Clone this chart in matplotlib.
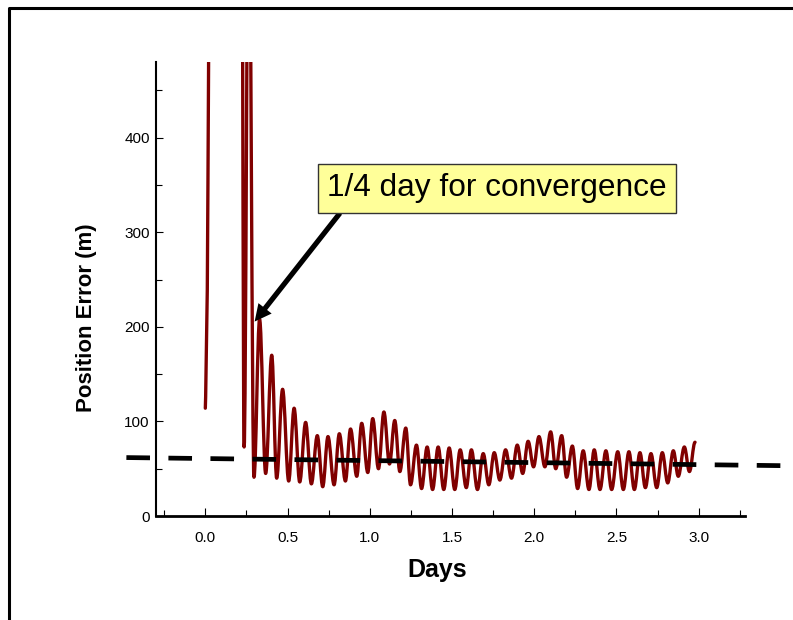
import matplotlib
matplotlib.use("Agg")
import matplotlib.pyplot as plt
from matplotlib.path import Path
from matplotlib.patches import PathPatch
from matplotlib.lines import Line2D
from matplotlib.ticker import MultipleLocator, FormatStrFormatter

plt.rcParams['font.family'] = ['Liberation Sans', 'DejaVu Sans']

# start-up transient (goes off the top of the chart)
early_days = [0.0, 0.002, 0.012, 0.016, 0.020, 0.023]
early_err = [114, 126, 239, 352, 482, 560]

# turning points (alternating peaks / troughs) of the position error
turn_days = [0.218, 0.236, 0.264, 0.296, 0.330, 0.367, 0.404, 0.434, 0.470, 0.507,
             0.540, 0.574, 0.610, 0.645, 0.681, 0.714, 0.746, 0.783, 0.815, 0.852,
             0.883, 0.921, 0.951, 0.988, 1.018, 1.053, 1.086, 1.120, 1.152, 1.183,
             1.219, 1.248, 1.284, 1.315, 1.349, 1.382, 1.416, 1.450, 1.483, 1.517,
             1.550, 1.587, 1.618, 1.655, 1.690, 1.724, 1.757, 1.791, 1.826, 1.862,
             1.897, 1.930, 1.963, 1.996, 2.029, 2.065, 2.100, 2.131, 2.167, 2.197,
             2.232, 2.264, 2.298, 2.333, 2.365, 2.400, 2.436, 2.471, 2.508, 2.542,
             2.576, 2.609, 2.643, 2.676, 2.710, 2.745, 2.779, 2.812, 2.846, 2.876,
             2.913, 2.944, 2.978]
turn_err = [900, 73, 700, 41, 208, 45, 170, 40, 134, 37,
            114, 36, 99, 34, 85, 31, 84, 33, 87, 37,
            92, 42, 98, 46, 103, 50, 110, 55, 101, 47,
            93, 33, 75, 29, 73, 28, 73, 28, 72, 28,
            70, 30, 70, 28, 66, 33, 67, 38, 70, 40,
            75, 45, 79, 52, 84, 52, 89, 50, 85, 41,
            74, 29, 69, 28, 70, 28, 69, 28, 68, 28,
            68, 28, 67, 30, 66, 30, 67, 35, 69, 42,
            73, 47, 78]

# dashed reference line
trend_days = [-0.48, 3.62]
trend_err = [61.8, 53.0]

note_text = "1/4 day for convergence"
note_pos = (1.773, 346.6)
arrow_tip = (0.300, 205.6)
arrow_tail = (0.819, 320.3)

fig = plt.figure(figsize=(7.93, 6.2), dpi=100)
ax = fig.add_axes([0.1967, 0.1677, 0.7428, 0.7323])

# smooth curve through the turning points (horizontal tangent at each one)
verts = [(turn_days[0], turn_err[0])]
codes = [Path.MOVETO]
for i in range(len(turn_days) - 1):
    x0, y0 = turn_days[i], turn_err[i]
    x1, y1 = turn_days[i + 1], turn_err[i + 1]
    h = 0.363 * (x1 - x0)
    verts += [(x0 + h, y0), (x1 - h, y1), (x1, y1)]
    codes += [Path.CURVE4] * 3
ax.add_patch(PathPatch(Path(verts, codes), facecolor='none', edgecolor='#800000',
                       lw=2.4, capstyle='round', joinstyle='round', zorder=3))
ax.plot(early_days, early_err, color='#800000', lw=2.4, solid_capstyle='round', zorder=3)

ax.plot(trend_days, trend_err, color='black', lw=3.4, linestyle=(0, (5, 3.9)),
        dash_capstyle='butt', clip_on=False, zorder=4)

ax.text(note_pos[0], note_pos[1], note_text, fontsize=22.8, ha='center', va='center',
        bbox=dict(boxstyle='square,pad=0.3', facecolor='#FFFF99', edgecolor='#333333', lw=1),
        zorder=6)
ax.annotate('', xy=arrow_tip, xytext=arrow_tail,
            arrowprops=dict(arrowstyle='simple,head_length=0.55,head_width=0.55,tail_width=0.17',
                            mutation_scale=22, fc='black', ec='black', lw=0,
                            shrinkA=0, shrinkB=0), zorder=5)

ax.set_xlim(-0.30, 3.282)
ax.set_ylim(0, 480)
ax.xaxis.set_major_locator(MultipleLocator(0.5))
ax.xaxis.set_minor_locator(MultipleLocator(0.25))
ax.xaxis.set_major_formatter(FormatStrFormatter('%.1f'))
ax.yaxis.set_major_locator(MultipleLocator(100))
ax.yaxis.set_minor_locator(MultipleLocator(50))

ax.spines['top'].set_visible(False)
ax.spines['right'].set_visible(False)
ax.spines['left'].set_linewidth(1.5)
ax.spines['bottom'].set_linewidth(2)
ax.tick_params(axis='x', which='major', direction='in', length=5.5, width=0.8, pad=11,
               labelsize=11)
ax.tick_params(axis='x', which='minor', direction='in', length=4.5, width=0.8)
ax.tick_params(axis='y', which='major', direction='in', length=5, width=0.8, pad=4.5,
               labelsize=11)
ax.tick_params(axis='y', which='minor', direction='in', length=4, width=0.8)

ax.set_xlabel('Days', fontsize=18, fontweight='bold')
ax.xaxis.set_label_coords(0.478, -0.092)
ax.set_ylabel('Position Error (m)', fontsize=16, fontweight='bold')
ax.yaxis.set_label_coords(-0.100, 0.436)

# slide frame (left and top edges)
fig.add_artist(Line2D([8.5 / 793, 8.5 / 793, 1.0], [0.0, 1 - 7.5 / 620, 1 - 7.5 / 620],
                      transform=fig.transFigure, color='black', lw=2.2))

fig.savefig('out.png', dpi=100)
